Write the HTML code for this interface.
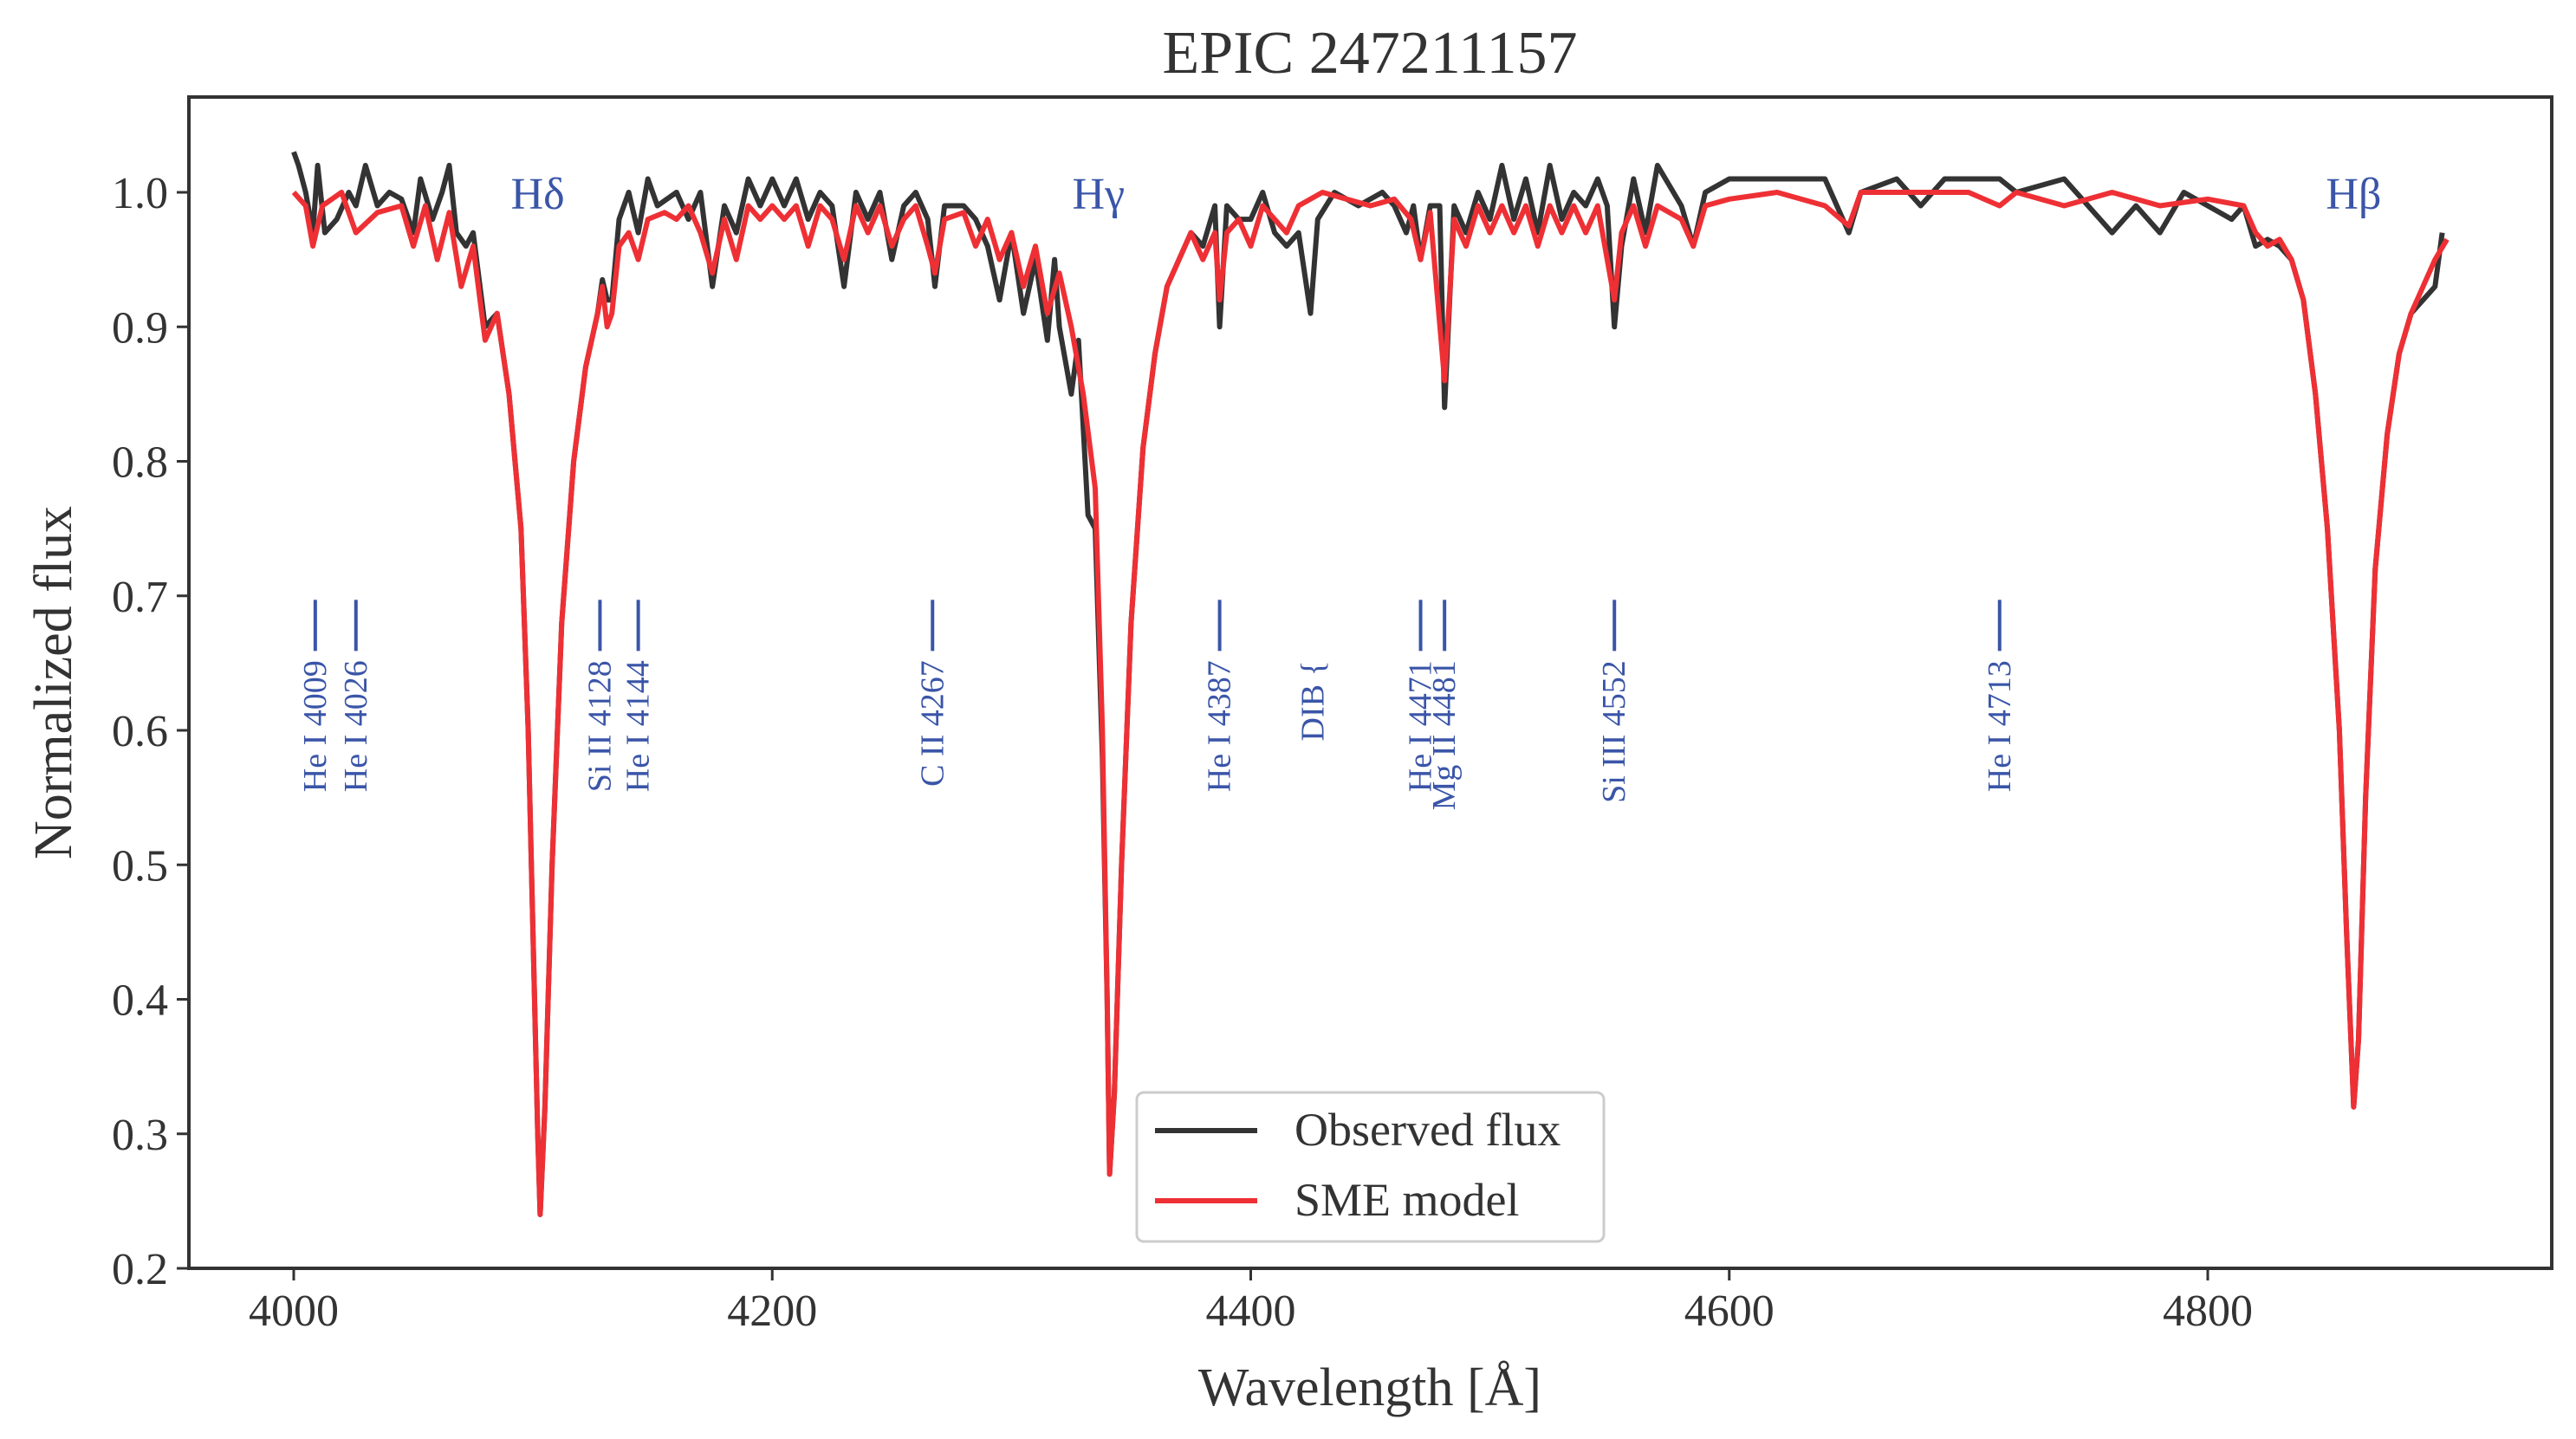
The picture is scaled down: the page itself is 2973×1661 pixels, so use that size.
<!DOCTYPE html>
<html><head><meta charset="utf-8"><style>
html,body{margin:0;padding:0;background:#fff;}
svg{display:block;font-family:"Liberation Serif",serif;}
</style></head><body>
<svg id="chart" width="2973" height="1661" viewBox="0 0 2973 1661" xmlns="http://www.w3.org/2000/svg">
<rect x="0" y="0" width="2973" height="1661" fill="#fff"/>
<text x="1581" y="84" font-size="70" text-anchor="middle" fill="#333">EPIC 247211157</text>
<g id="plot"></g>
<text x="1581" y="1622" font-size="62" text-anchor="middle" fill="#333">Wavelength  [Å]</text>
<text transform="translate(82,788) rotate(-90)" font-size="62" text-anchor="middle" fill="#333">Normalized flux</text>
</svg>
<script>
const xTicks=[4000,4200,4400,4600,4800];
const yTicks=[0.2,0.3,0.4,0.5,0.6,0.7,0.8,0.9,1.0];
const obsWl=[4000,4002,4005,4008,4010,4013,4018,4023,4026,4030,4035,4040,4045,4050,4053,4058,4062,4065,4068,4072,4075,4080,4085,4090,4095,4098,4100,4102,4103,4105,4108,4112,4117,4122,4127,4129,4131,4133,4136,4140,4144,4148,4152,4160,4165,4170,4175,4180,4185,4190,4195,4200,4205,4210,4215,4220,4225,4230,4235,4240,4245,4250,4255,4260,4265,4268,4272,4280,4285,4290,4295,4300,4305,4310,4315,4318,4320,4325,4328,4332,4335,4338,4340,4341,4343,4346,4350,4355,4360,4365,4370,4375,4380,4385,4387,4390,4395,4400,4405,4410,4415,4420,4425,4428,4435,4445,4455,4460,4465,4468,4471,4475,4479,4481,4485,4490,4495,4500,4505,4510,4515,4520,4525,4530,4535,4540,4545,4549,4552,4555,4560,4565,4570,4580,4585,4590,4600,4620,4640,4650,4655,4670,4680,4690,4700,4713,4720,4740,4750,4760,4770,4780,4790,4800,4810,4815,4820,4825,4830,4835,4840,4845,4850,4855,4858,4861,4863,4866,4870,4875,4880,4885,4890,4895,4898];
const obsFlux=[1.03,1.02,1.0,0.97,1.02,0.97,0.98,1.0,0.99,1.02,0.99,1.0,0.995,0.97,1.01,0.98,1.0,1.02,0.97,0.96,0.97,0.90,0.91,0.85,0.75,0.6,0.45,0.3,0.24,0.32,0.5,0.68,0.8,0.87,0.91,0.935,0.92,0.92,0.98,1.0,0.97,1.01,0.99,1.0,0.98,1.0,0.93,0.99,0.97,1.01,0.99,1.01,0.99,1.01,0.98,1.0,0.99,0.93,1.0,0.98,1.0,0.95,0.99,1.0,0.98,0.93,0.99,0.99,0.98,0.96,0.92,0.97,0.91,0.95,0.89,0.95,0.9,0.85,0.89,0.76,0.75,0.58,0.4,0.27,0.33,0.5,0.68,0.81,0.88,0.93,0.95,0.97,0.96,0.99,0.9,0.99,0.98,0.98,1.0,0.97,0.96,0.97,0.91,0.98,1.0,0.99,1.0,0.99,0.97,0.99,0.95,0.99,0.99,0.84,0.99,0.97,1.0,0.98,1.02,0.98,1.01,0.97,1.02,0.98,1.0,0.99,1.01,0.99,0.9,0.96,1.01,0.97,1.02,0.99,0.96,1.0,1.01,1.01,1.01,0.97,1.0,1.01,0.99,1.01,1.01,1.01,1.0,1.01,0.99,0.97,0.99,0.97,1.0,0.99,0.98,0.99,0.96,0.965,0.96,0.95,0.92,0.85,0.75,0.6,0.45,0.32,0.37,0.55,0.72,0.82,0.88,0.91,0.92,0.93,0.97];
const modWl=[4000,4005,4008,4012,4020,4026,4035,4045,4050,4055,4060,4065,4070,4075,4080,4085,4090,4095,4098,4100,4102,4103,4105,4108,4112,4117,4122,4127,4129,4131,4133,4136,4140,4144,4148,4155,4160,4165,4170,4175,4180,4185,4190,4195,4200,4205,4210,4215,4220,4225,4230,4235,4240,4245,4250,4255,4260,4265,4268,4272,4280,4285,4290,4295,4300,4305,4310,4315,4320,4325,4330,4335,4338,4340,4341,4343,4346,4350,4355,4360,4365,4370,4375,4380,4385,4387,4390,4395,4400,4405,4410,4415,4420,4430,4440,4450,4460,4467,4471,4475,4481,4485,4490,4495,4500,4505,4510,4515,4520,4525,4530,4535,4540,4545,4552,4555,4560,4565,4570,4580,4585,4590,4600,4620,4640,4650,4655,4680,4700,4713,4720,4740,4760,4780,4800,4815,4820,4825,4830,4835,4840,4845,4850,4855,4858,4861,4863,4866,4870,4875,4880,4885,4890,4895,4900];
const modFlux=[1.0,0.99,0.96,0.99,1.0,0.97,0.985,0.99,0.96,0.99,0.95,0.985,0.93,0.96,0.89,0.91,0.85,0.75,0.6,0.45,0.30,0.24,0.32,0.5,0.68,0.8,0.87,0.91,0.93,0.90,0.91,0.96,0.97,0.95,0.98,0.985,0.98,0.99,0.97,0.94,0.98,0.95,0.99,0.98,0.99,0.98,0.99,0.96,0.99,0.98,0.95,0.99,0.97,0.99,0.96,0.98,0.99,0.96,0.94,0.98,0.985,0.96,0.98,0.95,0.97,0.93,0.96,0.91,0.94,0.9,0.85,0.78,0.6,0.4,0.27,0.33,0.5,0.68,0.81,0.88,0.93,0.95,0.97,0.95,0.97,0.92,0.97,0.98,0.96,0.99,0.98,0.97,0.99,1.0,0.995,0.99,0.995,0.98,0.95,0.985,0.86,0.98,0.96,0.99,0.97,0.99,0.97,0.99,0.96,0.99,0.97,0.99,0.97,0.99,0.92,0.97,0.99,0.96,0.99,0.98,0.96,0.99,0.995,1.0,0.99,0.975,1.0,1.0,1.0,0.99,1.0,0.99,1.0,0.99,0.995,0.99,0.97,0.96,0.965,0.95,0.92,0.85,0.75,0.6,0.45,0.32,0.37,0.55,0.72,0.82,0.88,0.91,0.93,0.95,0.965];
const lineWl=[4009,4026,4128,4144,4267,4387,4471,4481,4552,4713];
const lineLabels=["He I 4009","He I 4026","Si II 4128","He I 4144","C II 4267","He I 4387","He I 4471","Mg II 4481","Si III 4552","He I 4713"];
const balmerWl=[4102,4340,4861];
const balmerLabels=["Hδ","Hγ","Hβ"];

const L=218,R=2945,T=112,B=1464;
const X=w=>339+(w-4000)*(2548-339)/800;
const Y=v=>222+(1-v)*(1464-222)/0.8;
const NS="http://www.w3.org/2000/svg";
const g=document.getElementById('plot');
function mk(tag,attrs,parent){const e=document.createElementNS(NS,tag);for(const k in attrs)e.setAttribute(k,attrs[k]);(parent||g).appendChild(e);return e;}

function series(wl,fl,color,name){
  const d=wl.map((w,i)=>(i?'L':'M')+X(w).toFixed(1)+','+Y(fl[i]).toFixed(1)).join(' ');
  const p=mk('path',{d:d,fill:'none',stroke:color,'stroke-width':6,'stroke-linejoin':'round'});
  
  
}
series(obsWl,obsFlux,'#333333','observed-flux-line');
series(modWl,modFlux,'#ee3035','sme-model-line');

lineWl.forEach((w,i)=>{
  const bar=mk('line',{x1:X(w),x2:X(w),y1:Y(0.697),y2:Y(0.659),stroke:'#3a55a8','stroke-width':4});
  
  
  const t=mk('text',{transform:`translate(${X(w)+12},${Y(0.652)}) rotate(-90)`,'font-size':38,'text-anchor':'end',fill:'#3a55a8'});
  t.textContent=lineLabels[i];
  
  
});
const dib=mk('text',{transform:`translate(${X(4426)+12},${Y(0.652)}) rotate(-90)`,'font-size':38,'text-anchor':'end',fill:'#3a55a8'});
dib.textContent="DIB {";



balmerWl.forEach((w,i)=>{
  const t=mk('text',{x:X(w)+(i==1?-10:0),y:Y(1.0)+19,'font-size':52,'text-anchor':'middle',fill:'#3a55a8'});
  t.textContent=balmerLabels[i];
  
  
});

const frame=mk('rect',{x:L,y:T,width:R-L,height:B-T,fill:'none',stroke:'#333','stroke-width':4});



xTicks.forEach(w=>{
  const tk=mk('line',{x1:X(w),x2:X(w),y1:B,y2:B+14,stroke:'#333','stroke-width':3});
  
  
  const t=mk('text',{x:X(w),y:B+66,'font-size':52,'text-anchor':'middle',fill:'#333'});
  t.textContent=w;
  
  
});
yTicks.forEach(v=>{
  const tk=mk('line',{x1:L-14,x2:L,y1:Y(v),y2:Y(v),stroke:'#333','stroke-width':3});
  
  
  const t=mk('text',{x:L-24,y:Y(v)+18,'font-size':52,'text-anchor':'end',fill:'#333'});
  t.textContent=v.toFixed(1);
  
  
});

const lg=mk('g',{});


mk('rect',{x:1312,y:1261,width:539,height:172,rx:8,fill:'#fff',stroke:'#ccc','stroke-width':3},lg);
mk('line',{x1:1333,x2:1451,y1:1305,y2:1305,stroke:'#333','stroke-width':6},lg);
mk('line',{x1:1333,x2:1451,y1:1386,y2:1386,stroke:'#ee3035','stroke-width':6},lg);
const t1=mk('text',{x:1494,y:1322,'font-size':54,fill:'#333'},lg);
t1.textContent='Observed flux';


const t2=mk('text',{x:1494,y:1403,'font-size':54,fill:'#333'},lg);
t2.textContent='SME model';


</script>
</body></html>
